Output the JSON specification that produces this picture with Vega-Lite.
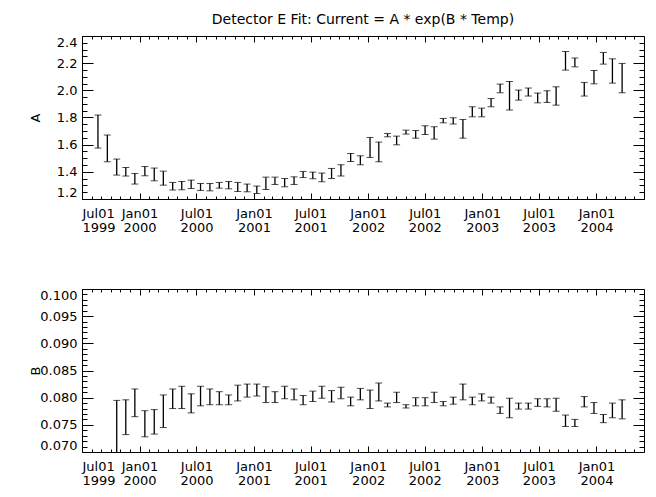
{
  "$schema": "https://vega.github.io/schema/vega-lite/v6.json",
  "background": "white",
  "padding": {"left": 28, "top": 12, "right": 8, "bottom": 5},
  "spacing": 53,
  "config": {
    "view": {"stroke": "black", "strokeWidth": 1},
    "axis": {"grid": false, "domain": false, "tickColor": "black", "tickWidth": 1, "labelColor": "black", "titleColor": "black", "labelFont": "DejaVu Sans", "labelFontSize": 13, "titleFont": "DejaVu Sans", "titleFontSize": 13, "titleFontWeight": "normal", "labelOverlap": false}
  },
  "datasets": {
    "A": [
      {"date": "1999-08-21", "lo": 1.575, "hi": 1.818},
      {"date": "1999-09-20", "lo": 1.474, "hi": 1.671},
      {"date": "1999-10-20", "lo": 1.376, "hi": 1.494},
      {"date": "1999-11-18", "lo": 1.369, "hi": 1.432},
      {"date": "1999-12-17", "lo": 1.310, "hi": 1.388},
      {"date": "2000-01-18", "lo": 1.371, "hi": 1.439},
      {"date": "2000-02-17", "lo": 1.334, "hi": 1.428},
      {"date": "2000-03-17", "lo": 1.302, "hi": 1.405},
      {"date": "2000-04-16", "lo": 1.266, "hi": 1.322},
      {"date": "2000-05-15", "lo": 1.268, "hi": 1.329},
      {"date": "2000-06-14", "lo": 1.277, "hi": 1.339},
      {"date": "2000-07-14", "lo": 1.263, "hi": 1.314},
      {"date": "2000-08-13", "lo": 1.260, "hi": 1.314},
      {"date": "2000-09-12", "lo": 1.280, "hi": 1.322},
      {"date": "2000-10-12", "lo": 1.275, "hi": 1.329},
      {"date": "2000-11-10", "lo": 1.255, "hi": 1.322},
      {"date": "2000-12-10", "lo": 1.253, "hi": 1.310},
      {"date": "2001-01-10", "lo": 1.240, "hi": 1.295},
      {"date": "2001-02-08", "lo": 1.270, "hi": 1.361},
      {"date": "2001-03-09", "lo": 1.307, "hi": 1.361},
      {"date": "2001-04-09", "lo": 1.290, "hi": 1.351},
      {"date": "2001-05-09", "lo": 1.307, "hi": 1.363},
      {"date": "2001-06-07", "lo": 1.358, "hi": 1.403},
      {"date": "2001-07-08", "lo": 1.349, "hi": 1.398},
      {"date": "2001-08-06", "lo": 1.327, "hi": 1.391},
      {"date": "2001-09-06", "lo": 1.351, "hi": 1.425},
      {"date": "2001-10-06", "lo": 1.369, "hi": 1.452},
      {"date": "2001-11-06", "lo": 1.476, "hi": 1.535},
      {"date": "2001-12-07", "lo": 1.452, "hi": 1.518},
      {"date": "2002-01-07", "lo": 1.506, "hi": 1.653},
      {"date": "2002-02-04", "lo": 1.474, "hi": 1.619},
      {"date": "2002-03-04", "lo": 1.658, "hi": 1.682},
      {"date": "2002-04-02", "lo": 1.599, "hi": 1.663},
      {"date": "2002-05-02", "lo": 1.678, "hi": 1.707},
      {"date": "2002-06-02", "lo": 1.648, "hi": 1.704},
      {"date": "2002-07-02", "lo": 1.675, "hi": 1.739},
      {"date": "2002-07-31", "lo": 1.641, "hi": 1.732},
      {"date": "2002-08-29", "lo": 1.761, "hi": 1.793},
      {"date": "2002-09-30", "lo": 1.752, "hi": 1.798},
      {"date": "2002-10-31", "lo": 1.648, "hi": 1.785},
      {"date": "2002-11-30", "lo": 1.805, "hi": 1.879},
      {"date": "2002-12-30", "lo": 1.805, "hi": 1.869},
      {"date": "2003-01-29", "lo": 1.879, "hi": 1.940},
      {"date": "2003-02-27", "lo": 1.982, "hi": 2.046},
      {"date": "2003-03-29", "lo": 1.855, "hi": 2.065},
      {"date": "2003-04-27", "lo": 1.928, "hi": 2.002},
      {"date": "2003-05-28", "lo": 1.958, "hi": 2.017},
      {"date": "2003-06-27", "lo": 1.908, "hi": 1.980},
      {"date": "2003-07-27", "lo": 1.911, "hi": 1.997},
      {"date": "2003-08-25", "lo": 1.891, "hi": 2.026},
      {"date": "2003-09-24", "lo": 2.149, "hi": 2.286},
      {"date": "2003-10-24", "lo": 2.173, "hi": 2.238},
      {"date": "2003-11-23", "lo": 1.958, "hi": 2.058},
      {"date": "2003-12-24", "lo": 2.048, "hi": 2.146},
      {"date": "2004-01-23", "lo": 2.193, "hi": 2.279},
      {"date": "2004-02-21", "lo": 2.053, "hi": 2.232},
      {"date": "2004-03-23", "lo": 1.982, "hi": 2.198}
    ],
    "B": [
      {"date": "1999-10-20", "lo": 0.0680, "hi": 0.0795},
      {"date": "1999-11-18", "lo": 0.0732, "hi": 0.0796},
      {"date": "1999-12-17", "lo": 0.0765, "hi": 0.0816},
      {"date": "2000-01-18", "lo": 0.0728, "hi": 0.0776},
      {"date": "2000-02-17", "lo": 0.0733, "hi": 0.0778},
      {"date": "2000-03-17", "lo": 0.0745, "hi": 0.0805},
      {"date": "2000-04-16", "lo": 0.0780, "hi": 0.0816},
      {"date": "2000-05-15", "lo": 0.0780, "hi": 0.0821},
      {"date": "2000-06-14", "lo": 0.0772, "hi": 0.0807},
      {"date": "2000-07-14", "lo": 0.0785, "hi": 0.0821},
      {"date": "2000-08-13", "lo": 0.0787, "hi": 0.0816},
      {"date": "2000-09-12", "lo": 0.0787, "hi": 0.0811},
      {"date": "2000-10-12", "lo": 0.0787, "hi": 0.0805},
      {"date": "2000-11-10", "lo": 0.0794, "hi": 0.0823},
      {"date": "2000-12-10", "lo": 0.0801, "hi": 0.0825},
      {"date": "2001-01-10", "lo": 0.0803, "hi": 0.0825},
      {"date": "2001-02-08", "lo": 0.0791, "hi": 0.0820},
      {"date": "2001-03-09", "lo": 0.0791, "hi": 0.0811},
      {"date": "2001-04-09", "lo": 0.0798, "hi": 0.0821},
      {"date": "2001-05-09", "lo": 0.0796, "hi": 0.0816},
      {"date": "2001-06-07", "lo": 0.0787, "hi": 0.0804},
      {"date": "2001-07-08", "lo": 0.0793, "hi": 0.0812},
      {"date": "2001-08-06", "lo": 0.0799, "hi": 0.0821},
      {"date": "2001-09-06", "lo": 0.0792, "hi": 0.0813},
      {"date": "2001-10-06", "lo": 0.0798, "hi": 0.0819},
      {"date": "2001-11-06", "lo": 0.0785, "hi": 0.0801},
      {"date": "2001-12-07", "lo": 0.0796, "hi": 0.0817},
      {"date": "2002-01-07", "lo": 0.0780, "hi": 0.0814},
      {"date": "2002-02-04", "lo": 0.0794, "hi": 0.0827},
      {"date": "2002-03-04", "lo": 0.0783, "hi": 0.0790},
      {"date": "2002-04-02", "lo": 0.0791, "hi": 0.0810},
      {"date": "2002-05-02", "lo": 0.0781, "hi": 0.0787},
      {"date": "2002-06-02", "lo": 0.0785, "hi": 0.0800},
      {"date": "2002-07-02", "lo": 0.0785, "hi": 0.0800},
      {"date": "2002-07-31", "lo": 0.0791, "hi": 0.0810},
      {"date": "2002-08-29", "lo": 0.0785, "hi": 0.0793},
      {"date": "2002-09-30", "lo": 0.0788, "hi": 0.0801},
      {"date": "2002-10-31", "lo": 0.0796, "hi": 0.0825},
      {"date": "2002-11-30", "lo": 0.0787, "hi": 0.0801},
      {"date": "2002-12-30", "lo": 0.0794, "hi": 0.0807},
      {"date": "2003-01-29", "lo": 0.0790, "hi": 0.0801},
      {"date": "2003-02-27", "lo": 0.0771, "hi": 0.0783},
      {"date": "2003-03-29", "lo": 0.0763, "hi": 0.0799},
      {"date": "2003-04-27", "lo": 0.0779, "hi": 0.0790},
      {"date": "2003-05-28", "lo": 0.0779, "hi": 0.0790},
      {"date": "2003-06-27", "lo": 0.0784, "hi": 0.0798},
      {"date": "2003-07-27", "lo": 0.0783, "hi": 0.0798},
      {"date": "2003-08-25", "lo": 0.0775, "hi": 0.0799},
      {"date": "2003-09-24", "lo": 0.0747, "hi": 0.0768},
      {"date": "2003-10-24", "lo": 0.0747, "hi": 0.0760},
      {"date": "2003-11-23", "lo": 0.0783, "hi": 0.0802},
      {"date": "2003-12-24", "lo": 0.0771, "hi": 0.0791},
      {"date": "2004-01-23", "lo": 0.0754, "hi": 0.0769},
      {"date": "2004-02-21", "lo": 0.0763, "hi": 0.0790},
      {"date": "2004-03-23", "lo": 0.0761, "hi": 0.0796}
    ]
  },
  "vconcat": [
    {
      "width": 562,
      "height": 163,
      "title": {"text": "Detector E Fit: Current = A * exp(B * Temp)", "anchor": "middle", "frame": "group", "font": "DejaVu Sans", "fontSize": 14, "fontWeight": "normal", "color": "black", "offset": 9},
      "data": {"name": "A"},
      "layer": [
        {
          "mark": {"type": "errorbar", "color": "black", "ticks": {"size": 7, "color": "black", "strokeWidth": 1.3}, "rule": {"color": "black", "strokeWidth": 1.3}},
          "encoding": {
            "x": {"field": "date", "type": "temporal", "scale": {"type": "utc", "domain": [{"year": 1999, "month": 7, "utc": true}, {"year": 2004, "month": 6, "utc": true}]},
              "axis": {"orient": "bottom", "title": null, "tickSize": -6, "labelPadding": 14, "labelLineHeight": 14, "labelExpr": "[utcFormat(datum.value, '%b%d'), utcFormat(datum.value, '%Y')]",
                "values": [{"year": 1999, "month": 7, "utc": true}, {"year": 2000, "month": 1, "utc": true}, {"year": 2000, "month": 7, "utc": true}, {"year": 2001, "month": 1, "utc": true}, {"year": 2001, "month": 7, "utc": true}, {"year": 2002, "month": 1, "utc": true}, {"year": 2002, "month": 7, "utc": true}, {"year": 2003, "month": 1, "utc": true}, {"year": 2003, "month": 7, "utc": true}, {"year": 2004, "month": 1, "utc": true}]}},
            "y": {"field": "lo", "type": "quantitative", "scale": {"domain": [1.2, 2.4], "zero": false, "nice": false},
              "axis": {"orient": "left", "title": "A", "titleX": -40, "tickSize": -11, "labelPadding": 16, "format": ".1f", "labelFlush": true, "values": [1.2, 1.4, 1.6, 1.8, 2.0, 2.2, 2.4]}},
            "y2": {"field": "hi"}
          }
        },
        {
          "mark": {"type": "point", "opacity": 0},
          "encoding": {
            "x": {"field": "date", "type": "temporal", "axis": {"orient": "bottom", "title": null, "labels": false, "tickSize": -3,
              "values": [{"year": 1999, "month": 8, "utc": true}, {"year": 1999, "month": 9, "utc": true}, {"year": 1999, "month": 10, "utc": true}, {"year": 1999, "month": 11, "utc": true}, {"year": 1999, "month": 12, "utc": true}, {"year": 2000, "month": 2, "utc": true}, {"year": 2000, "month": 3, "utc": true}, {"year": 2000, "month": 4, "utc": true}, {"year": 2000, "month": 5, "utc": true}, {"year": 2000, "month": 6, "utc": true}, {"year": 2000, "month": 8, "utc": true}, {"year": 2000, "month": 9, "utc": true}, {"year": 2000, "month": 10, "utc": true}, {"year": 2000, "month": 11, "utc": true}, {"year": 2000, "month": 12, "utc": true}, {"year": 2001, "month": 2, "utc": true}, {"year": 2001, "month": 3, "utc": true}, {"year": 2001, "month": 4, "utc": true}, {"year": 2001, "month": 5, "utc": true}, {"year": 2001, "month": 6, "utc": true}, {"year": 2001, "month": 8, "utc": true}, {"year": 2001, "month": 9, "utc": true}, {"year": 2001, "month": 10, "utc": true}, {"year": 2001, "month": 11, "utc": true}, {"year": 2001, "month": 12, "utc": true}, {"year": 2002, "month": 2, "utc": true}, {"year": 2002, "month": 3, "utc": true}, {"year": 2002, "month": 4, "utc": true}, {"year": 2002, "month": 5, "utc": true}, {"year": 2002, "month": 6, "utc": true}, {"year": 2002, "month": 8, "utc": true}, {"year": 2002, "month": 9, "utc": true}, {"year": 2002, "month": 10, "utc": true}, {"year": 2002, "month": 11, "utc": true}, {"year": 2002, "month": 12, "utc": true}, {"year": 2003, "month": 2, "utc": true}, {"year": 2003, "month": 3, "utc": true}, {"year": 2003, "month": 4, "utc": true}, {"year": 2003, "month": 5, "utc": true}, {"year": 2003, "month": 6, "utc": true}, {"year": 2003, "month": 8, "utc": true}, {"year": 2003, "month": 9, "utc": true}, {"year": 2003, "month": 10, "utc": true}, {"year": 2003, "month": 11, "utc": true}, {"year": 2003, "month": 12, "utc": true}, {"year": 2004, "month": 2, "utc": true}, {"year": 2004, "month": 3, "utc": true}, {"year": 2004, "month": 4, "utc": true}, {"year": 2004, "month": 5, "utc": true}]}},
            "y": {"field": "lo", "type": "quantitative", "axis": {"orient": "left", "title": null, "labels": false, "tickSize": -5,
              "values": [1.25, 1.3, 1.35, 1.45, 1.5, 1.55, 1.65, 1.7, 1.75, 1.85, 1.9, 1.95, 2.05, 2.1, 2.15, 2.25, 2.3, 2.35]}}
          }
        },
        {
          "mark": {"type": "point", "opacity": 0},
          "encoding": {
            "x": {"field": "date", "type": "temporal", "axis": {"orient": "top", "title": null, "labels": false, "tickSize": -6,
              "values": [{"year": 1999, "month": 7, "utc": true}, {"year": 2000, "month": 1, "utc": true}, {"year": 2000, "month": 7, "utc": true}, {"year": 2001, "month": 1, "utc": true}, {"year": 2001, "month": 7, "utc": true}, {"year": 2002, "month": 1, "utc": true}, {"year": 2002, "month": 7, "utc": true}, {"year": 2003, "month": 1, "utc": true}, {"year": 2003, "month": 7, "utc": true}, {"year": 2004, "month": 1, "utc": true}]}},
            "y": {"field": "lo", "type": "quantitative", "axis": {"orient": "right", "title": null, "labels": false, "tickSize": -11, "values": [1.2, 1.4, 1.6, 1.8, 2.0, 2.2, 2.4]}}
          }
        },
        {
          "mark": {"type": "point", "opacity": 0},
          "encoding": {
            "x": {"field": "date", "type": "temporal", "axis": {"orient": "top", "title": null, "labels": false, "tickSize": -3,
              "values": [{"year": 1999, "month": 8, "utc": true}, {"year": 1999, "month": 9, "utc": true}, {"year": 1999, "month": 10, "utc": true}, {"year": 1999, "month": 11, "utc": true}, {"year": 1999, "month": 12, "utc": true}, {"year": 2000, "month": 2, "utc": true}, {"year": 2000, "month": 3, "utc": true}, {"year": 2000, "month": 4, "utc": true}, {"year": 2000, "month": 5, "utc": true}, {"year": 2000, "month": 6, "utc": true}, {"year": 2000, "month": 8, "utc": true}, {"year": 2000, "month": 9, "utc": true}, {"year": 2000, "month": 10, "utc": true}, {"year": 2000, "month": 11, "utc": true}, {"year": 2000, "month": 12, "utc": true}, {"year": 2001, "month": 2, "utc": true}, {"year": 2001, "month": 3, "utc": true}, {"year": 2001, "month": 4, "utc": true}, {"year": 2001, "month": 5, "utc": true}, {"year": 2001, "month": 6, "utc": true}, {"year": 2001, "month": 8, "utc": true}, {"year": 2001, "month": 9, "utc": true}, {"year": 2001, "month": 10, "utc": true}, {"year": 2001, "month": 11, "utc": true}, {"year": 2001, "month": 12, "utc": true}, {"year": 2002, "month": 2, "utc": true}, {"year": 2002, "month": 3, "utc": true}, {"year": 2002, "month": 4, "utc": true}, {"year": 2002, "month": 5, "utc": true}, {"year": 2002, "month": 6, "utc": true}, {"year": 2002, "month": 8, "utc": true}, {"year": 2002, "month": 9, "utc": true}, {"year": 2002, "month": 10, "utc": true}, {"year": 2002, "month": 11, "utc": true}, {"year": 2002, "month": 12, "utc": true}, {"year": 2003, "month": 2, "utc": true}, {"year": 2003, "month": 3, "utc": true}, {"year": 2003, "month": 4, "utc": true}, {"year": 2003, "month": 5, "utc": true}, {"year": 2003, "month": 6, "utc": true}, {"year": 2003, "month": 8, "utc": true}, {"year": 2003, "month": 9, "utc": true}, {"year": 2003, "month": 10, "utc": true}, {"year": 2003, "month": 11, "utc": true}, {"year": 2003, "month": 12, "utc": true}, {"year": 2004, "month": 2, "utc": true}, {"year": 2004, "month": 3, "utc": true}, {"year": 2004, "month": 4, "utc": true}, {"year": 2004, "month": 5, "utc": true}]}},
            "y": {"field": "lo", "type": "quantitative", "axis": {"orient": "right", "title": null, "labels": false, "tickSize": -5,
              "values": [1.25, 1.3, 1.35, 1.45, 1.5, 1.55, 1.65, 1.7, 1.75, 1.85, 1.9, 1.95, 2.05, 2.1, 2.15, 2.25, 2.3, 2.35]}}
          }
        }
      ],
      "resolve": {"axis": {"x": "independent", "y": "independent"}}
    },
    {
      "width": 562,
      "height": 163,
      "data": {"name": "B"},
      "layer": [
        {
          "mark": {"type": "errorbar", "color": "black", "clip": true, "ticks": {"size": 7, "color": "black", "strokeWidth": 1.3}, "rule": {"color": "black", "strokeWidth": 1.3}},
          "encoding": {
            "x": {"field": "date", "type": "temporal", "scale": {"type": "utc", "domain": [{"year": 1999, "month": 7, "utc": true}, {"year": 2004, "month": 6, "utc": true}]},
              "axis": {"orient": "bottom", "title": null, "tickSize": -6, "labelPadding": 14, "labelLineHeight": 14, "labelExpr": "[utcFormat(datum.value, '%b%d'), utcFormat(datum.value, '%Y')]",
                "values": [{"year": 1999, "month": 7, "utc": true}, {"year": 2000, "month": 1, "utc": true}, {"year": 2000, "month": 7, "utc": true}, {"year": 2001, "month": 1, "utc": true}, {"year": 2001, "month": 7, "utc": true}, {"year": 2002, "month": 1, "utc": true}, {"year": 2002, "month": 7, "utc": true}, {"year": 2003, "month": 1, "utc": true}, {"year": 2003, "month": 7, "utc": true}, {"year": 2004, "month": 1, "utc": true}]}},
            "y": {"field": "lo", "type": "quantitative", "scale": {"domain": [0.07, 0.1], "zero": false, "nice": false},
              "axis": {"orient": "left", "title": "B", "titleX": -40, "tickSize": -11, "labelPadding": 16, "format": ".3f", "labelFlush": true, "values": [0.07, 0.075, 0.08, 0.085, 0.09, 0.095, 0.1]}},
            "y2": {"field": "hi"}
          }
        },
        {
          "mark": {"type": "point", "opacity": 0},
          "encoding": {
            "x": {"field": "date", "type": "temporal", "axis": {"orient": "bottom", "title": null, "labels": false, "tickSize": -3,
              "values": [{"year": 1999, "month": 8, "utc": true}, {"year": 1999, "month": 9, "utc": true}, {"year": 1999, "month": 10, "utc": true}, {"year": 1999, "month": 11, "utc": true}, {"year": 1999, "month": 12, "utc": true}, {"year": 2000, "month": 2, "utc": true}, {"year": 2000, "month": 3, "utc": true}, {"year": 2000, "month": 4, "utc": true}, {"year": 2000, "month": 5, "utc": true}, {"year": 2000, "month": 6, "utc": true}, {"year": 2000, "month": 8, "utc": true}, {"year": 2000, "month": 9, "utc": true}, {"year": 2000, "month": 10, "utc": true}, {"year": 2000, "month": 11, "utc": true}, {"year": 2000, "month": 12, "utc": true}, {"year": 2001, "month": 2, "utc": true}, {"year": 2001, "month": 3, "utc": true}, {"year": 2001, "month": 4, "utc": true}, {"year": 2001, "month": 5, "utc": true}, {"year": 2001, "month": 6, "utc": true}, {"year": 2001, "month": 8, "utc": true}, {"year": 2001, "month": 9, "utc": true}, {"year": 2001, "month": 10, "utc": true}, {"year": 2001, "month": 11, "utc": true}, {"year": 2001, "month": 12, "utc": true}, {"year": 2002, "month": 2, "utc": true}, {"year": 2002, "month": 3, "utc": true}, {"year": 2002, "month": 4, "utc": true}, {"year": 2002, "month": 5, "utc": true}, {"year": 2002, "month": 6, "utc": true}, {"year": 2002, "month": 8, "utc": true}, {"year": 2002, "month": 9, "utc": true}, {"year": 2002, "month": 10, "utc": true}, {"year": 2002, "month": 11, "utc": true}, {"year": 2002, "month": 12, "utc": true}, {"year": 2003, "month": 2, "utc": true}, {"year": 2003, "month": 3, "utc": true}, {"year": 2003, "month": 4, "utc": true}, {"year": 2003, "month": 5, "utc": true}, {"year": 2003, "month": 6, "utc": true}, {"year": 2003, "month": 8, "utc": true}, {"year": 2003, "month": 9, "utc": true}, {"year": 2003, "month": 10, "utc": true}, {"year": 2003, "month": 11, "utc": true}, {"year": 2003, "month": 12, "utc": true}, {"year": 2004, "month": 2, "utc": true}, {"year": 2004, "month": 3, "utc": true}, {"year": 2004, "month": 4, "utc": true}, {"year": 2004, "month": 5, "utc": true}]}},
            "y": {"field": "lo", "type": "quantitative", "axis": {"orient": "left", "title": null, "labels": false, "tickSize": -5,
              "values": [0.071, 0.072, 0.073, 0.074, 0.076, 0.077, 0.078, 0.079, 0.081, 0.082, 0.083, 0.084, 0.086, 0.087, 0.088, 0.089, 0.091, 0.092, 0.093, 0.094, 0.096, 0.097, 0.098, 0.099]}}
          }
        },
        {
          "mark": {"type": "point", "opacity": 0},
          "encoding": {
            "x": {"field": "date", "type": "temporal", "axis": {"orient": "top", "title": null, "labels": false, "tickSize": -6,
              "values": [{"year": 1999, "month": 7, "utc": true}, {"year": 2000, "month": 1, "utc": true}, {"year": 2000, "month": 7, "utc": true}, {"year": 2001, "month": 1, "utc": true}, {"year": 2001, "month": 7, "utc": true}, {"year": 2002, "month": 1, "utc": true}, {"year": 2002, "month": 7, "utc": true}, {"year": 2003, "month": 1, "utc": true}, {"year": 2003, "month": 7, "utc": true}, {"year": 2004, "month": 1, "utc": true}]}},
            "y": {"field": "lo", "type": "quantitative", "axis": {"orient": "right", "title": null, "labels": false, "tickSize": -11, "values": [0.07, 0.075, 0.08, 0.085, 0.09, 0.095, 0.1]}}
          }
        },
        {
          "mark": {"type": "point", "opacity": 0},
          "encoding": {
            "x": {"field": "date", "type": "temporal", "axis": {"orient": "top", "title": null, "labels": false, "tickSize": -3,
              "values": [{"year": 1999, "month": 8, "utc": true}, {"year": 1999, "month": 9, "utc": true}, {"year": 1999, "month": 10, "utc": true}, {"year": 1999, "month": 11, "utc": true}, {"year": 1999, "month": 12, "utc": true}, {"year": 2000, "month": 2, "utc": true}, {"year": 2000, "month": 3, "utc": true}, {"year": 2000, "month": 4, "utc": true}, {"year": 2000, "month": 5, "utc": true}, {"year": 2000, "month": 6, "utc": true}, {"year": 2000, "month": 8, "utc": true}, {"year": 2000, "month": 9, "utc": true}, {"year": 2000, "month": 10, "utc": true}, {"year": 2000, "month": 11, "utc": true}, {"year": 2000, "month": 12, "utc": true}, {"year": 2001, "month": 2, "utc": true}, {"year": 2001, "month": 3, "utc": true}, {"year": 2001, "month": 4, "utc": true}, {"year": 2001, "month": 5, "utc": true}, {"year": 2001, "month": 6, "utc": true}, {"year": 2001, "month": 8, "utc": true}, {"year": 2001, "month": 9, "utc": true}, {"year": 2001, "month": 10, "utc": true}, {"year": 2001, "month": 11, "utc": true}, {"year": 2001, "month": 12, "utc": true}, {"year": 2002, "month": 2, "utc": true}, {"year": 2002, "month": 3, "utc": true}, {"year": 2002, "month": 4, "utc": true}, {"year": 2002, "month": 5, "utc": true}, {"year": 2002, "month": 6, "utc": true}, {"year": 2002, "month": 8, "utc": true}, {"year": 2002, "month": 9, "utc": true}, {"year": 2002, "month": 10, "utc": true}, {"year": 2002, "month": 11, "utc": true}, {"year": 2002, "month": 12, "utc": true}, {"year": 2003, "month": 2, "utc": true}, {"year": 2003, "month": 3, "utc": true}, {"year": 2003, "month": 4, "utc": true}, {"year": 2003, "month": 5, "utc": true}, {"year": 2003, "month": 6, "utc": true}, {"year": 2003, "month": 8, "utc": true}, {"year": 2003, "month": 9, "utc": true}, {"year": 2003, "month": 10, "utc": true}, {"year": 2003, "month": 11, "utc": true}, {"year": 2003, "month": 12, "utc": true}, {"year": 2004, "month": 2, "utc": true}, {"year": 2004, "month": 3, "utc": true}, {"year": 2004, "month": 4, "utc": true}, {"year": 2004, "month": 5, "utc": true}]}},
            "y": {"field": "lo", "type": "quantitative", "axis": {"orient": "right", "title": null, "labels": false, "tickSize": -5,
              "values": [0.071, 0.072, 0.073, 0.074, 0.076, 0.077, 0.078, 0.079, 0.081, 0.082, 0.083, 0.084, 0.086, 0.087, 0.088, 0.089, 0.091, 0.092, 0.093, 0.094, 0.096, 0.097, 0.098, 0.099]}}
          }
        }
      ],
      "resolve": {"axis": {"x": "independent", "y": "independent"}}
    }
  ]
}
